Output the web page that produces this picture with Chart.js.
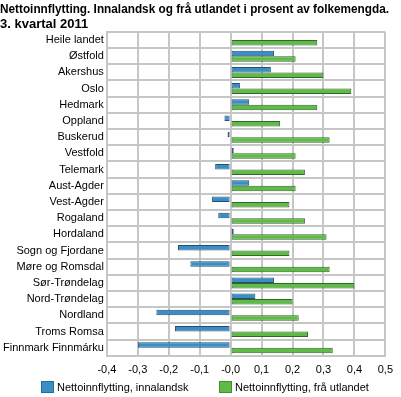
<!DOCTYPE html>
<html>
<head>
<meta charset="utf-8">
<script src="https://cdn.jsdelivr.net/npm/chart.js@4.4.0/dist/chart.umd.min.js"></script>
<style>
  html, body { margin: 0; padding: 0; background: #fff; }
  #wrap { position: relative; width: 401px; height: 397px; }
  canvas { display: block; }
  .leg { position: absolute; top: 381px; font: 11px "Liberation Sans", Arial, sans-serif; color: #000;
         line-height: 13px; white-space: nowrap; }
  .leg i { display: inline-block; width: 13px; height: 12px; vertical-align: -2px; margin-right: 3px;
           box-sizing: border-box; border: 1px solid rgba(0,0,0,0.25); }
</style>
</head>
<body>
<div id="wrap">
  <canvas id="chart" width="401" height="397"></canvas>
  <div class="leg" style="left:41px"><i style="background:#398fc5"></i>Nettoinnflytting, innalandsk</div>
  <div class="leg" style="left:219px"><i style="background:#5dbb46"></i>Nettoinnflytting, frå utlandet</div>
</div>
<script>
// Fylke / kategoriar
const categories = ['Heile landet', 'Østfold', 'Akershus', 'Oslo', 'Hedmark', 'Oppland', 'Buskerud',
  'Vestfold', 'Telemark', 'Aust-Agder', 'Vest-Agder', 'Rogaland', 'Hordaland', 'Sogn og Fjordane',
  'Møre og Romsdal', 'Sør-Trøndelag', 'Nord-Trøndelag', 'Nordland', 'Troms Romsa', 'Finnmark Finnmárku'];

// Nettoinnflytting, innalandsk (prosent)
const innalandsk = [0, 0.14, 0.13, 0.03, 0.06, -0.02, -0.01, 0.01, -0.05, 0.06, -0.06, -0.04, 0.01,
  -0.17, -0.13, 0.14, 0.08, -0.24, -0.18, -0.30];

// Nettoinnflytting, frå utlandet (prosent)
const fraUtlandet = [0.28, 0.21, 0.30, 0.39, 0.28, 0.16, 0.32, 0.21, 0.24, 0.21, 0.19, 0.24, 0.31,
  0.19, 0.32, 0.40, 0.20, 0.22, 0.25, 0.33];

// Aksemerke
const tickValues = [-0.4, -0.3, -0.2, -0.1, 0, 0.1, 0.2, 0.3, 0.4, 0.5];
const tickLabels = ['-0,4', '-0,3', '-0,2', '-0,1', '-0,0', '0,1', '0,2', '0,3', '0,4', '0,5'];

const font = '"Liberation Sans", Arial, sans-serif';
const gridColor = '#c6c6c6';

new Chart(document.getElementById('chart'), {
  type: 'bar',
  data: {
    labels: categories,
    datasets: [
      {
        label: 'Nettoinnflytting, innalandsk',
        data: innalandsk,
        backgroundColor: '#398fc5',
        borderColor: '#24506e',
        borderWidth: 1,
        borderSkipped: false
      },
      {
        label: 'Nettoinnflytting, frå utlandet',
        data: fraUtlandet,
        backgroundColor: '#5dbb46',
        borderColor: '#336628',
        borderWidth: 1,
        borderSkipped: false
      }
    ]
  },
  options: {
    indexAxis: 'y',
    responsive: false,
    animation: false,
    layout: { padding: { left: 0, right: 12, top: 2, bottom: 12 } },
    datasets: { bar: { categoryPercentage: 0.68, barPercentage: 1 } },
    scales: {
      x: {
        min: -0.4,
        max: 0.5,
        afterBuildTicks: axis => { axis.ticks = tickValues.map(v => ({ value: v })); },
        ticks: {
          color: '#000',
          font: { family: font, size: 11 },
          padding: 8,
          maxRotation: 0,
          callback: (v) => {
            const i = tickValues.findIndex(t => Math.abs(t - v) < 1e-9);
            return i >= 0 ? tickLabels[i] : '';
          }
        },
        grid: { color: gridColor, lineWidth: 2, drawTicks: false },
        border: { color: gridColor, width: 2 }
      },
      y: {
        ticks: {
          color: '#000',
          font: { family: font, size: 11 },
          padding: 3,
          autoSkip: false
        },
        grid: { color: gridColor, lineWidth: 2, drawTicks: false, offset: true },
        border: { color: gridColor, width: 2 }
      }
    },
    plugins: {
      title: {
        display: true,
        text: ['Nettoinnflytting. Innalandsk og frå utlandet i prosent av folkemengda.', '3. kvartal 2011'],
        align: 'start',
        color: '#000',
        font: { family: font, size: 13, weight: 'bold', lineHeight: 1.15 },
        padding: { top: 0, bottom: 0 }
      },
      legend: { display: false },
      tooltip: { enabled: false }
    }
  }
});
</script>
</body>
</html>
